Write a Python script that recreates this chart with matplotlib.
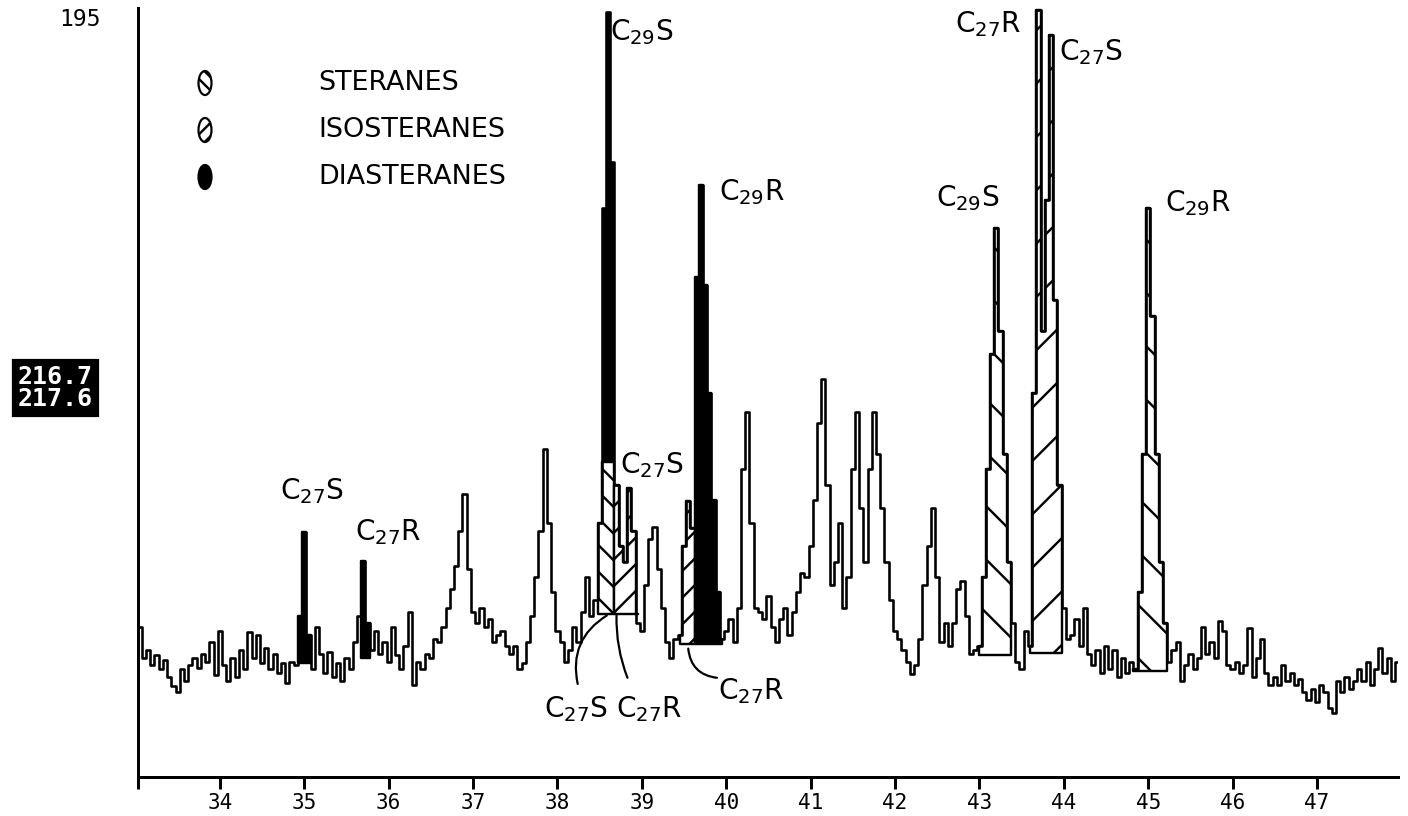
import numpy as np
import matplotlib
matplotlib.use('Agg')
import matplotlib.pyplot as plt
from matplotlib.patches import Ellipse

DPI = 160
PT = 72 / DPI  # points per output pixel

# m/z 217 trace, one reading every 0.05 min starting at 33.05 min (% of full scale)
intensity = [
    19.5, 15.5, 16.5, 14.5, 15.8, 14.0, 15.2, 13.0, 11.8, 11.0, 14.0, 12.5, 14.6, 15.5, 14.2, 16.0, 15.0, 17.5, 13.2, 19.0,
    14.5, 12.5, 15.5, 13.0, 16.5, 14.0, 18.8, 15.5, 18.5, 14.8, 16.8, 14.0, 16.0, 13.5, 14.8, 12.2, 15.0, 14.5, 21.0, 31.8,
    18.5, 14.0, 19.5, 16.0, 13.5, 16.2, 13.0, 14.8, 12.5, 15.5, 14.0, 17.5, 21.0, 28.1, 20.0, 16.5, 19.0, 16.0, 17.5, 15.0,
    19.5, 15.8, 14.0, 17.0, 21.5, 12.0, 15.0, 14.0, 16.0, 15.5, 18.0, 17.5, 19.5, 22.0, 24.5, 27.5, 32.0, 36.8, 27.0, 21.5,
    20.0, 22.0, 19.5, 20.5, 17.5, 18.5, 19.0, 17.0, 16.0, 17.0, 14.0, 14.8, 17.5, 21.0, 26.0, 32.0, 42.7, 33.0, 24.0, 19.0,
    17.5, 15.0, 16.5, 19.5, 17.5, 21.5, 26.0, 21.0, 23.0, 33.0, 74.0, 99.5, 80.0, 38.0, 30.0, 28.0, 37.6, 32.0, 20.0, 19.0,
    25.0, 31.0, 32.5, 27.0, 22.0, 17.5, 15.5, 18.0, 18.5, 30.0, 35.9, 32.4, 65.0, 77.0, 64.0, 50.0, 36.0, 24.0, 18.0, 19.0,
    20.5, 17.5, 22.0, 40.0, 47.4, 33.0, 22.0, 21.5, 20.5, 23.5, 19.5, 17.5, 20.5, 22.0, 18.5, 21.5, 24.0, 26.5, 26.0, 30.0,
    36.0, 46.0, 51.8, 38.0, 25.0, 28.0, 33.0, 22.0, 26.0, 40.0, 47.4, 35.0, 28.0, 40.0, 47.4, 42.0, 35.0, 28.0, 23.0, 19.0,
    18.0, 16.5, 15.0, 13.4, 14.5, 18.0, 25.0, 30.0, 35.0, 26.0, 17.5, 20.0, 17.0, 20.0, 24.5, 25.5, 21.0, 16.0, 16.5, 17.0,
    26.0, 40.0, 55.0, 71.4, 58.0, 42.0, 28.0, 20.0, 15.0, 14.0, 19.0, 17.0, 50.0, 99.8, 58.0, 75.0, 96.5, 62.0, 38.0, 22.0,
    18.0, 18.5, 20.5, 17.0, 22.0, 16.0, 14.5, 16.5, 13.5, 17.0, 14.0, 16.5, 13.0, 15.5, 13.5, 15.0, 14.0, 24.0, 42.0, 74.0,
    60.0, 42.0, 28.0, 20.0, 15.0, 16.5, 17.5, 12.5, 14.5, 16.0, 14.0, 15.5, 19.5, 16.0, 17.5, 15.5, 20.3, 19.0, 14.5, 14.0,
    15.0, 13.5, 14.5, 19.4, 13.0, 15.5, 18.0, 13.5, 12.0, 13.0, 12.0, 14.5, 12.5, 13.5, 12.0, 12.8, 11.0, 10.0, 11.5, 9.8,
    12.0, 11.0, 9.0, 8.3, 12.5, 11.0, 13.0, 11.5, 12.5, 14.0, 12.5, 15.0, 12.0, 14.0, 16.8, 13.5, 15.5, 12.5, 15.0,
]
times = np.round(33.05 + 0.05 * np.arange(len(intensity)), 2)

x_ticks = [34, 35, 36, 37, 38, 39, 40, 41, 42, 43, 44, 45, 46, 47]

# shaded peaks: (start, end, base level, upper cap, hatch)
diasterane_zones = [(34.925, 35.075, 14.8, None, None), (35.675, 35.775, 15.5, None, None),
                    (39.625, 39.95, 17.3, None, None)]
c29s_top = (38.525, 38.675, 41.0)  # diasterane above the coeluting sterane
sterane_zones = [(38.475, 38.675, 21.2, 41.0, '\\\\'), (43.0, 43.375, 15.8, None, '\\'),
                 (44.825, 45.225, 13.8, None, '\\')]
isosterane_zones = [(38.675, 38.95, 21.2, None, '//'), (39.45, 39.625, 17.3, None, '//'),
                    (43.6, 43.975, 16.1, None, '/')]

legend_names = ['STERANES', 'ISOSTERANES', 'DIASTERANES']

peak_labels = [
    ('C$_{29}$S', 39.0, 96.9), ('C$_{29}$R', 40.30, 76.0),
    ('C$_{27}$S', 35.09, 37.2), ('C$_{27}$R', 35.99, 31.8),
    ('C$_{27}$S', 39.12, 40.5),
    ('C$_{27}$S', 38.22, 8.8), ('C$_{27}$R', 39.09, 8.8), ('C$_{27}$R', 40.30, 11.2),
    ('C$_{27}$R', 43.10, 97.9), ('C$_{27}$S', 44.32, 94.3),
    ('C$_{29}$S', 42.86, 75.3), ('C$_{29}$R', 45.59, 74.6),
]
# leader lines (from peak foot, to label)
leaders = [((38.585, 21.0), (38.24, 12.1), 0.35),
           ((38.70, 21.0), (38.83, 12.9), 0.1),
           ((39.55, 16.7), (39.89, 12.9), 0.4)]

plt.rcParams['hatch.linewidth'] = 2.4 * PT
plt.rcParams['mathtext.fontset'] = 'dejavusans'

fig = plt.figure(figsize=(1408 / DPI, 816 / DPI), dpi=DPI)
ax = fig.add_axes([138 / 1408, (816 - 777) / 816, 1260 / 1408, 769 / 816])


def step_outline(t0, t1):
    half = 0.025
    xs, ys = [], []
    for ti, vi in zip(times, intensity):
        a, b = max(ti - half, t0), min(ti + half, t1)
        if a < b - 1e-9:
            xs += [a, b]
            ys += [vi, vi]
    return np.array(xs), np.array(ys)


def shade(zones, face):
    for t0, t1, base, cap, hatch in zones:
        xs, ys = step_outline(t0, t1)
        upper = np.maximum(ys, base)
        if cap is not None:
            upper = np.minimum(upper, cap)
        ax.fill_between(xs, base, upper, facecolor=face, edgecolor='black',
                        hatch=hatch, lw=2.4 * PT, zorder=2)


shade(sterane_zones, 'white')
shade(isosterane_zones, 'white')
shade(diasterane_zones, 'black')
xs, ys = step_outline(c29s_top[0], c29s_top[1])
ax.fill_between(xs, c29s_top[2], np.maximum(ys, c29s_top[2]), color='black', lw=0, zorder=2)

ax.plot(times, intensity, drawstyle='steps-mid', color='black', lw=2.6 * PT, zorder=3)

ax.set_xlim(33.03, 47.96)
ax.set_ylim(0, 100)
for side in ['top', 'right']:
    ax.spines[side].set_visible(False)
for side in ['left', 'bottom']:
    ax.spines[side].set_linewidth(3 * PT)
ax.set_yticks([])
ax.set_xticks([33.03] + x_ticks)
ax.set_xticklabels([''] + [str(v) for v in x_ticks], family='DejaVu Sans Mono')
ax.tick_params(axis='x', direction='out', length=12 * PT, width=3 * PT,
               pad=4 * PT, labelsize=21 * PT)

for txt, t, y in peak_labels:
    ax.text(t, y, txt, ha='center', va='center', fontsize=28 * PT, family='DejaVu Sans')
for (x0, y0), (x1, y1), rad in leaders:
    ax.annotate('', xy=(x1, y1), xytext=(x0, y0),
                arrowprops=dict(arrowstyle='-', lw=2.2 * PT, color='black',
                                connectionstyle='arc3,rad=%s' % rad,
                                shrinkA=0, shrinkB=0))

# legend drawn by hand like the printout
legend_y = [83, 130, 177]
hatches = ['\\\\\\\\', '////', None]
for name, py, h in zip(legend_names, legend_y, hatches):
    fc = 'black' if h is None else 'white'
    fig.add_artist(Ellipse((205 / 1408, 1 - py / 816), 13 / 1408, 24 / 816,
                           transform=fig.transFigure, facecolor=fc,
                           edgecolor='black', hatch=h, lw=2.2 * PT))
    fig.text(318 / 1408, 1 - py / 816, name, ha='left', va='center',
             fontsize=27 * PT, family='DejaVu Sans')

fig.text(80 / 1408, 1 - 20 / 816, '195', ha='center', va='center',
         fontsize=23 * PT, family='DejaVu Sans Mono')
fig.text(55 / 1408, 1 - 388 / 816, '216.7\n217.6', ha='center', va='center',
         fontsize=25 * PT, family='DejaVu Sans Mono', weight='bold', color='white',
         linespacing=0.9,
         bbox=dict(boxstyle='square,pad=0.2', facecolor='black', edgecolor='black'))

fig.savefig('out.png', dpi=DPI)
